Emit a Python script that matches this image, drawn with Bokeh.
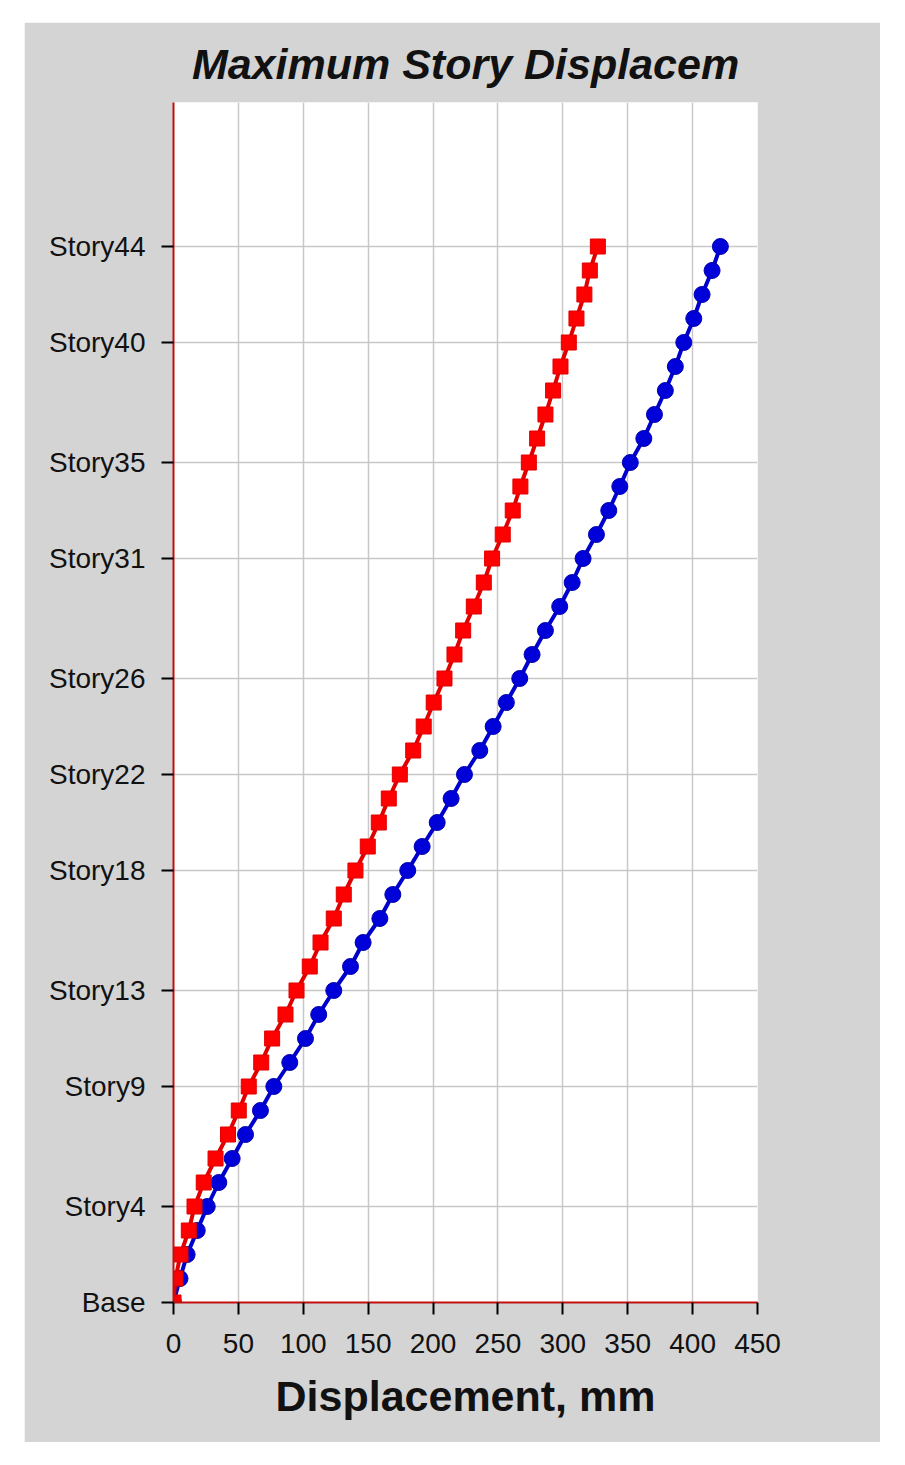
from bokeh.plotting import figure
from bokeh.models import FixedTicker, Range1d
from bokeh.embed import file_html
from bokeh.resources import INLINE

stories = list(range(45))
tick_stories = [0, 4, 9, 13, 18, 22, 26, 31, 35, 40, 44]
tick_labels = ["Base", "Story4", "Story9", "Story13", "Story18", "Story22",
               "Story26", "Story31", "Story35", "Story40", "Story44"]
x_ticks = [0, 50, 100, 150, 200, 250, 300, 350, 400, 450]

red_disp = [0, 1.5, 5.4, 11.8, 16.2, 23.3, 32.4, 42, 50.3, 58, 67.6, 76, 86.3, 94.8,
            105, 113.3, 123.5, 131.2, 140.2, 149.7, 158.2, 165.9, 174.4, 184.7,
            192.8, 200.5, 208.8, 216.5, 223.2, 231.4, 239.1, 245.5, 253.7, 261.4,
            267.3, 273.8, 280.2, 286.6, 292.5, 298.2, 304.6, 310.5, 316.6, 320.8, 327]
blue_disp = [0, 5, 10.5, 18.3, 26, 34.9, 45.2, 55.5, 67, 77.3, 89.6, 101.7, 111.9,
             123.5, 136.4, 146.1, 159, 169, 180.5, 191.6, 203.2, 213.9, 224.2, 236,
             246.3, 256.5, 266.8, 276.3, 286.6, 297.6, 307.2, 315.6, 325.9, 335.4,
             343.9, 352, 362.4, 370.6, 379, 386.7, 393.2, 400.9, 407.3, 415, 421.4]

GRAY = "#d4d4d4"
AXIS_RED = "#c01010"

p = figure(width=856, height=1420, output_backend="svg", toolbar_location=None,
           x_range=Range1d(0, 450), y_range=Range1d(0, 50),
           title="Maximum Story Displacem",
           min_border_left=149, min_border_right=123,
           min_border_top=78, min_border_bottom=140)
p.margin = (22, 0, 0, 24)

p.border_fill_color = GRAY
p.background_fill_color = "white"
p.outline_line_color = None

p.title.text_font = "Liberation Sans"
p.title.text_font_style = "bold italic"
p.title.text_font_size = "43px"
p.title.text_color = "#111111"
p.title.align = "center"
p.title.standoff = 30

# axes
p.xaxis.ticker = FixedTicker(ticks=x_ticks)
p.yaxis.ticker = FixedTicker(ticks=tick_stories)
p.yaxis.major_label_overrides = {s: l for s, l in zip(tick_stories, tick_labels)}
for ax in (p.xaxis, p.yaxis):
    ax.axis_line_color = AXIS_RED
    ax.axis_line_width = 2
    ax.major_tick_line_color = "black"
    ax.major_tick_line_width = 2
    ax.major_tick_out = 12
    ax.major_tick_in = 0
    ax.minor_tick_line_color = None
    ax.major_label_text_font = "Liberation Sans"
    ax.major_label_text_font_size = "28px"
    ax.major_label_text_color = "#111111"
p.yaxis.major_label_standoff = 16
p.xaxis.major_label_standoff = 19

p.xaxis.axis_label = "Displacement, mm"
p.xaxis.axis_label_text_font = "Liberation Sans"
p.xaxis.axis_label_text_font_style = "bold"
p.xaxis.axis_label_text_font_size = "43px"
p.xaxis.axis_label_text_color = "#111111"
p.xaxis.axis_label_standoff = 16

p.xgrid.grid_line_color = "#c8c8c8"
p.ygrid.grid_line_color = "#c8c8c8"
p.xgrid.grid_line_width = 1.5
p.ygrid.grid_line_width = 1.5

# series
p.line(blue_disp, stories, line_color="#0000cc", line_width=4)
p.scatter(blue_disp, stories, marker="circle", size=16,
          fill_color="#0000d8", line_color="#0000b0", line_width=1)
p.line(red_disp, stories, line_color="#e00000", line_width=4)
p.scatter(red_disp, stories, marker="square", size=15,
          fill_color="#ff0000", line_color="#e00000", line_width=1)

open("out.html", "w").write(file_html(p, INLINE))
